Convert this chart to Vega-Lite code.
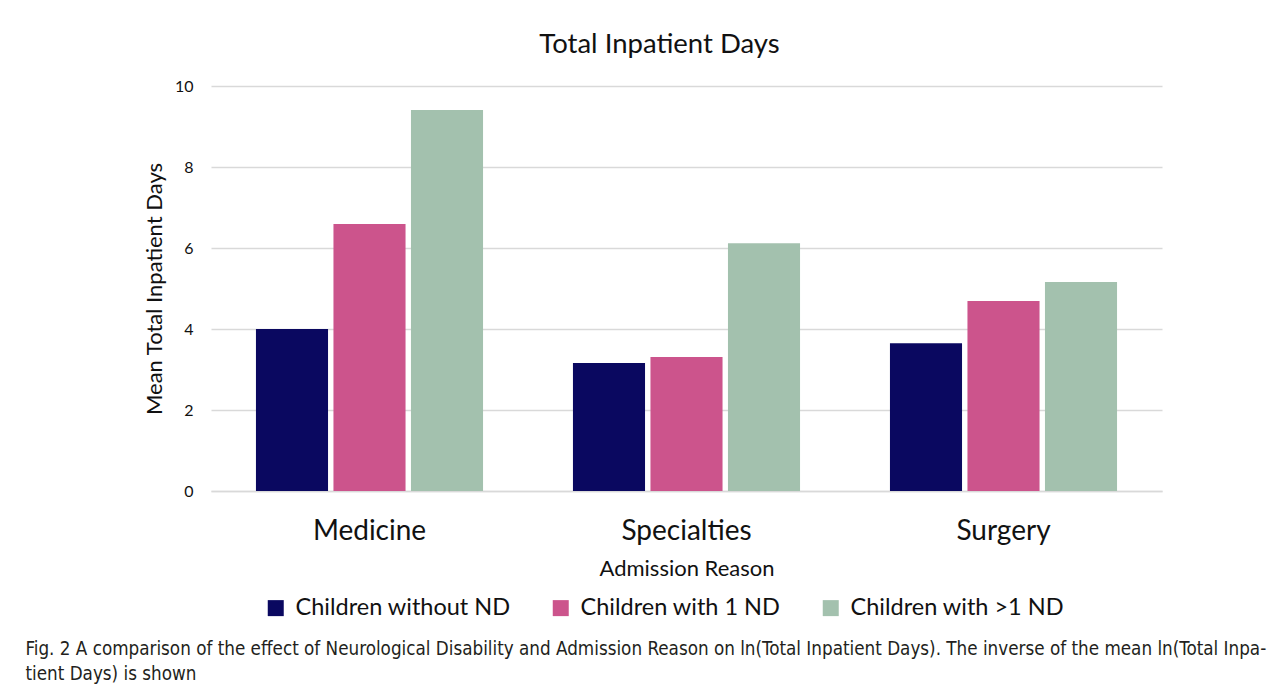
{
  "$schema": "https://vega.github.io/schema/vega-lite/v6.json",
  "background": "white",
  "padding": {"left": 25, "top": 30, "right": 10, "bottom": 5},
  "title": {
    "text": ["Fig. 2  A comparison of the effect of Neurological Disability and Admission Reason on ln(Total Inpatient Days). The inverse of the mean ln(Total Inpa-", "tient Days) is shown"],
    "orient": "bottom", "anchor": "start", "font": "DejaVu Sans Condensed", "fontSize": 18.7, "fontWeight": "normal",
    "color": "#231f20", "lineHeight": 25, "offset": 20, "dx": -118
  },
  "vconcat": [
    {
      "width": 951,
      "height": 405,
      "title": {"text": "Total Inpatient Days", "fontSize": 27.5, "font": "Lato", "fontWeight": "normal", "anchor": "middle", "offset": 20, "dx": -27, "color": "#111"},
      "data": {"values": [
        {"reason": "Medicine", "group": "Children without ND", "days": 4.0},
        {"reason": "Medicine", "group": "Children with 1 ND", "days": 6.59},
        {"reason": "Medicine", "group": "Children with >1 ND", "days": 9.41},
        {"reason": "Specialties", "group": "Children without ND", "days": 3.16},
        {"reason": "Specialties", "group": "Children with 1 ND", "days": 3.31},
        {"reason": "Specialties", "group": "Children with >1 ND", "days": 6.12},
        {"reason": "Surgery", "group": "Children without ND", "days": 3.65},
        {"reason": "Surgery", "group": "Children with 1 ND", "days": 4.69},
        {"reason": "Surgery", "group": "Children with >1 ND", "days": 5.16}
      ]},
      "mark": {"type": "bar"},
      "encoding": {
        "x": {"field": "reason", "type": "nominal", "sort": ["Medicine", "Specialties", "Surgery"],
          "scale": {"paddingInner": 0, "paddingOuter": 0},
          "axis": {"title": "Admission Reason", "labelAngle": 0, "labelFontSize": 28, "labelPadding": 26, "labelColor": "#111",
            "titleFontSize": 22, "titleFontWeight": "normal", "titlePadding": 13, "titleColor": "#111", "ticks": false, "domainColor": "#d9d9d9", "domainWidth": 1.5}},
        "xOffset": {"field": "group", "sort": ["Children without ND", "Children with 1 ND", "Children with >1 ND"],
          "scale": {"paddingInner": 0.07, "paddingOuter": 0.58}},
        "y": {"field": "days", "type": "quantitative", "scale": {"domain": [0, 10]},
          "axis": {"title": "Mean Total Inpatient Days", "values": [0, 2, 4, 6, 8, 10], "gridColor": "#d9d9d9", "gridWidth": 1.5,
            "domain": false, "ticks": false, "labelPadding": 18, "labelFontSize": 16, "labelColor": "#111",
            "titleFontSize": 22, "titleFontWeight": "normal", "titlePadding": 8, "titleColor": "#111"}},
        "color": {"field": "group", "type": "nominal",
          "scale": {"domain": ["Children without ND", "Children with 1 ND", "Children with >1 ND"], "range": ["#0a0860", "#cc548c", "#a3c1ae"]},
          "legend": {"orient": "none", "legendX": 53, "legendY": 510, "direction": "horizontal", "title": null, "symbolType": "square", "symbolSize": 256,
            "symbolStrokeWidth": 0, "labelFontSize": 23.5, "labelLimit": 0, "labelOffset": 8, "labelColor": "#111", "columnPadding": 38}}
      }
    }
  ],
  "config": {"view": {"stroke": null}, "font": "Lato"}
}
